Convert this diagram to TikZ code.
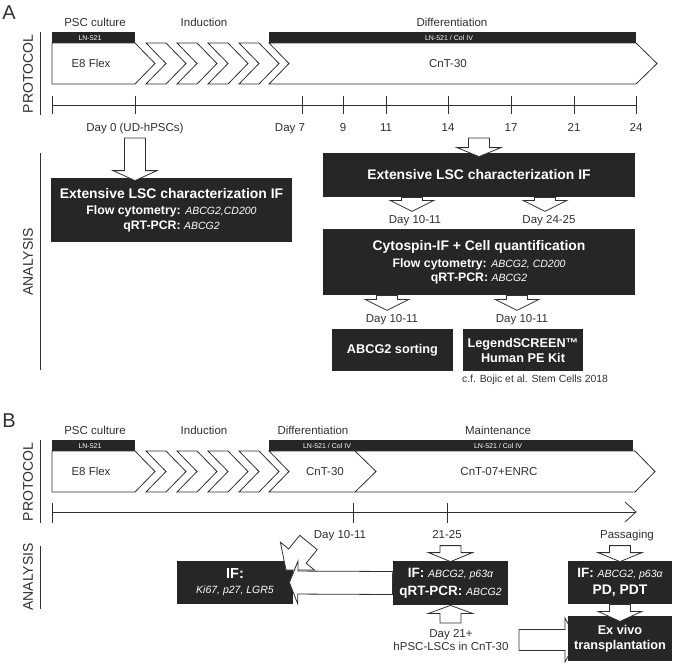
\documentclass[tikz,border=0pt]{standalone}
\usepackage{fontspec}
\setmainfont{Liberation Sans}
\usetikzlibrary{calc}

\definecolor{boxgray}{HTML}{262626}
\definecolor{linegray}{HTML}{303030}

\newcommand{\fsz}[2]{\fontsize{#1}{#2}\selectfont}
\newcommand{\gene}[1]{{\mdseries\itshape\fsz{10.5}{12}#1}}
\newcommand{\shaftw}{10.5pt}
\newcommand{\headw}{22pt}
% hollow block arrow from #2 to #3, #1 = head length
\newcommand{\blockarrow}[3][10pt]{%
\coordinate (hb) at ($(#3)!#1!(#2)$);
\draw[blockarr] ($(#2)!\shaftw!90:(#3)$) -- ($(hb)!\shaftw!-90:(#2)$) -- ($(hb)!\headw!-90:(#2)$) -- (#3) -- ($(hb)!\headw!90:(#2)$) -- ($(hb)!\shaftw!90:(#2)$) -- ($(#2)!\shaftw!-90:(#3)$) -- cycle;}

\begin{document}
\begin{tikzpicture}[x=1pt, y=-1pt, line width=0.8pt, color=linegray,
  lbl/.style={font=\fsz{11.5}{14}, anchor=base, inner sep=0pt},
  tinylbl/.style={font=\fsz{7}{8}, text=white, anchor=base, inner sep=0pt},
  sidelbl/.style={font=\fsz{14}{16}, rotate=90, inner sep=0pt},
  darkbox/.style={fill=boxgray, text=white, align=center, inner sep=0pt, font=\bfseries\fsz{12.3}{15}},
  blockarr/.style={draw=linegray, fill=white, line join=miter}]
\useasboundingbox (0,0) rectangle (685,662);

%protocol rows, same start in A and B
\foreach \dy/\pn in {0/A,408/B}
{
\node[font=\fsz{20}{22}, anchor=base west, inner sep=0pt] (lab\pn) at (2,19+\dy) {\pn};
\node[lbl] (psc\pn) at (95,26+\dy) {PSC culture};
\node[lbl] (ind\pn) at (204,26+\dy) {Induction};
\fill[boxgray] (52,32+\dy) rectangle (135,43+\dy);
\node[tinylbl] (ln\pn) at (90,40+\dy) {LN-521};
\draw (52,43+\dy) -- (135,43+\dy) -- (155,63.5+\dy) -- (135,84+\dy) -- (52,84+\dy) -- cycle;
\node[lbl] (eight\pn) at (91,67+\dy) {E8 Flex};
\foreach \k in {0,...,3}
{\draw (146+31*\k,43+\dy) -- ++(20,0) -- ++(20,20.5) -- ++(-20,20.5) -- ++(-20,0) -- ++(20,-20.5) -- cycle;}
\node[sidelbl] (prot\pn) at (28,74+\dy) {PROTOCOL};
\draw (40,32+\dy) -- (40,115+\dy);
}

%A : differentiation
\node[lbl] (difA) at (452,26) {Differentiation};
\fill[boxgray] (269,32) rectangle (636,43);
\node[tinylbl] (colA) at (449,40) {LN-521 / Col IV};
\draw (269,43) -- (636,43) -- (657,63.5) -- (636,84) -- (269,84) -- (289,63.5) -- cycle;
\node[lbl] (cntA) at (448,67) {CnT-30};

%A : time line
\draw (52,105) -- (636,105);
\foreach \x in {52,135,302,343,386,448,511,574,636}
{\draw (\x,96) -- (\x,114);}
\foreach \x/\t in {135/Day 0 (UD-hPSCs),290/Day 7,343/9,386/11,448/14,511/17,574/21,636/24}
{\node[lbl] (tA\x) at (\x,131) {\t};}

%A : analysis
\node[sidelbl] (anaA) at (28,262) {ANALYSIS};
\draw (40,153) -- (40,370);

\node[darkbox, minimum width=241pt, minimum height=64pt] (lscA) at (171.5,210)
{{\fsz{13.9}{15}Extensive LSC characterization IF}\\[1pt] Flow cytometry: \gene{ABCG2,CD200}\\ qRT-PCR: \gene{ABCG2}};
\node[darkbox, font=\bfseries\fsz{13.9}{15}, minimum width=312pt, minimum height=44pt] (charA) at (479,175)
{Extensive LSC characterization IF};
\node[darkbox, font=\bfseries\fsz{12.3}{14.5}, minimum width=312pt, minimum height=66pt] (cytoA) at (479,262)
{{\fsz{13.9}{15}Cytospin-IF + Cell quantification}\\[2.5pt] Flow cytometry: \gene{ABCG2, CD200}\\ qRT-PCR: \gene{ABCG2}};
\node[darkbox, font=\bfseries\fsz{12.7}{15}, minimum width=121pt, minimum height=42pt] (sortA) at (392.5,350)
{ABCG2 sorting};
\node[darkbox, font=\bfseries\fsz{12.7}{15}, minimum width=120pt, minimum height=42pt] (legA) at (523,350)
{LegendSCREEN™\\Human PE Kit};
\node[font=\fsz{10.4}{12}, anchor=base, inner sep=0pt] (citeA) at (535,382) {c.f. Bojic et al. Stem Cells 2018};

\coordinate (dzero) at (135,138);
\coordinate (dzerotip) at ($(lscA.north -| dzero)+(0,3)$);
\blockarrow{dzero}{dzerotip}
\coordinate (dfourteen) at (479,138);
\coordinate (dfourteentip) at ($(charA.north)+(0,4)$);
\blockarrow[9pt]{dfourteen}{dfourteentip}

\coordinate (ca) at ($(charA.south)+(-67,0)$);
\coordinate (cb) at ($(charA.south)+(66,0)$);
\blockarrow[11pt]{ca}{$(ca)+(0,14)$}
\blockarrow[11pt]{cb}{$(cb)+(0,14)$}
\node[lbl] (dayAa) at (415,223) {Day 10-11};
\node[lbl] (dayAb) at (549,223) {Day 24-25};

\coordinate (cc) at ($(cytoA.south)+(-92,0)$);
\coordinate (cd) at ($(cytoA.south)+(38,0)$);
\blockarrow[11pt]{cc}{$(cc)+(0,15)$}
\blockarrow[11pt]{cd}{$(cd)+(0,15)$}
\node[lbl] (dayAc) at (392,322) {Day 10-11};
\node[lbl] (dayAd) at (522,322) {Day 10-11};

%B : differentiation and maintenance
\node[lbl] (difB) at (313,434) {Differentiation};
\node[lbl] (mntB) at (498,434) {Maintenance};
\fill[boxgray] (269,440) rectangle (633,451);
\node[tinylbl] (colBa) at (327,448) {LN-521 / Col IV};
\node[tinylbl] (colBb) at (498,448) {LN-521 / Col IV};
\draw (269,451) -- (355,451) -- (376,471.5) -- (355,492) -- (269,492) -- (289,471.5) -- cycle;
\draw (355,451) -- (635,451) -- (655,471.5) -- (635,492) -- (355,492);
\node[lbl] (cntB) at (325,475) {CnT-30};
\node[lbl] (cntsB) at (499,475) {CnT-07+ENRC};

%B : time line
\draw (52,512) -- (636,512);
\draw (625,502) -- (636,512) -- (625,522);
\foreach \x in {52,353,447}
{\draw (\x,503) -- (\x,523);}
\node[lbl] (tBa) at (340,538) {Day 10-11};
\node[lbl] (tBb) at (447,538) {21-25};
\node[lbl] (tBc) at (627,538) {Passaging};

%B : analysis
\node[sidelbl] (anaB) at (28,577) {ANALYSIS};
\draw (40,546) -- (40,609);

\node[darkbox, minimum width=116pt, minimum height=43pt] (ifB) at (235,582.5)
{{\fsz{14.5}{18}IF:}\\ \gene{Ki67, p27, LGR5}};
\node[darkbox, font=\bfseries\fsz{13.5}{18}, minimum width=115pt, minimum height=44pt] (qpcrB) at (450.5,583)
{IF: \gene{ABCG2, p63α}\\ qRT-PCR: \gene{ABCG2}};
\node[darkbox, font=\bfseries\fsz{13.5}{17}, minimum width=104pt, minimum height=43pt] (pdB) at (620,582.5)
{IF: \gene{ABCG2, p63α}\\ {\fsz{13.9}{17}PD, PDT}};

\coordinate (lscR) at (519,640);
\coordinate (lscRtip) at (577,640);
\blockarrow[12pt]{lscR}{lscRtip}
\node[darkbox, font=\bfseries\fsz{12.7}{15}, minimum width=104pt, minimum height=45pt] (exB) at (620,638.5)
{Ex vivo\\transplantation};
\node[lbl] (lscBa) at (451,637) {Day 21+};
\node[lbl] (lscBb) at (451,650.5) {hPSC-LSCs in CnT-30};

\coordinate (ttwo) at ($(qpcrB.north)+(0,-15)$);
\blockarrow[9pt]{ttwo}{$(qpcrB.north)+(0,1)$}
\coordinate (pas) at ($(pdB.north)+(0,-15)$);
\blockarrow[9pt]{pas}{$(pdB.north)+(0,1)$}
\blockarrow{pdB.south}{$(pdB.south)+(0,17)$}
\coordinate (lscup) at ($(qpcrB.south)+(0,17.5)$);
\blockarrow[8pt]{lscup}{qpcrB.south}

% day 10-11 sample, tilted, under the long arrow
\coordinate (dten) at (308.5,542.5);
\coordinate (dtentip) at (286,570);
\begin{scope}
\renewcommand{\shaftw}{11.3pt}
\blockarrow[18pt]{dten}{dtentip}
\end{scope}
\begin{scope}
\renewcommand{\shaftw}{11.5pt}
\renewcommand{\headw}{21.5pt}
\blockarrow[8.5pt]{qpcrB.west}{$(ifB.east)+(-4,0)$}
\end{scope}

\end{tikzpicture}
\end{document}
